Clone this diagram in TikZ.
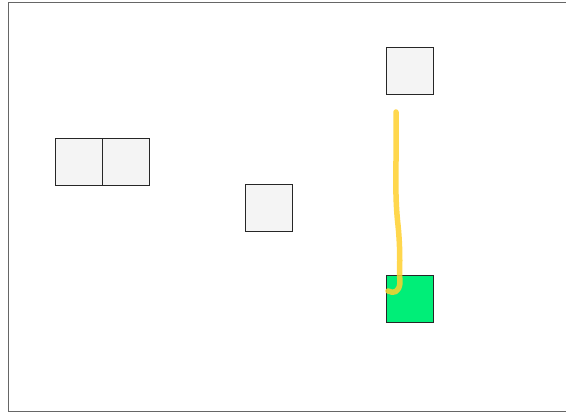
\documentclass[tikz,border=0pt]{standalone}
\usetikzlibrary{positioning}
\definecolor{cellgray}{HTML}{F4F4F4}
\definecolor{goalgreen}{HTML}{00EE78}
\definecolor{trailgold}{HTML}{FFD02E}
\definecolor{framegray}{HTML}{666666}
\begin{document}
\begin{tikzpicture}[x=1pt,y=-1pt,
  cell/.style={draw=black!85,fill=cellgray,minimum size=47pt,inner sep=0pt,outer sep=0pt,line width=.9pt},
  goal/.style={cell,fill=goalgreen},
  trail/.style={draw=trailgold,line width=5.5pt,line cap=round,line join=round,opacity=.85}
]
\useasboundingbox (0,0) rectangle (566,414);
\draw[framegray,line width=1.8pt] (8.5,2.5) rectangle (570,411.5);
\node[cell] (cellA) at (79.3,162) {};
\node[cell,right=0pt of cellA] (cellB) {};
\node[cell] (mid) at (268.5,207.5) {};
\node[cell] (top) at (409.5,70.5) {};
\node[goal] (goal) at (409.5,299) {};
\coordinate (trailstart) at (396,112);
\coordinate (trailend) at (388,291);
\draw[trail] (trailstart) .. controls (397,160) and (394,190) .. (398,225)
  .. controls (401,255) and (399,270) .. (400,283)
  .. controls (399,292) and (394,294) .. (trailend);
\end{tikzpicture}
\end{document}
